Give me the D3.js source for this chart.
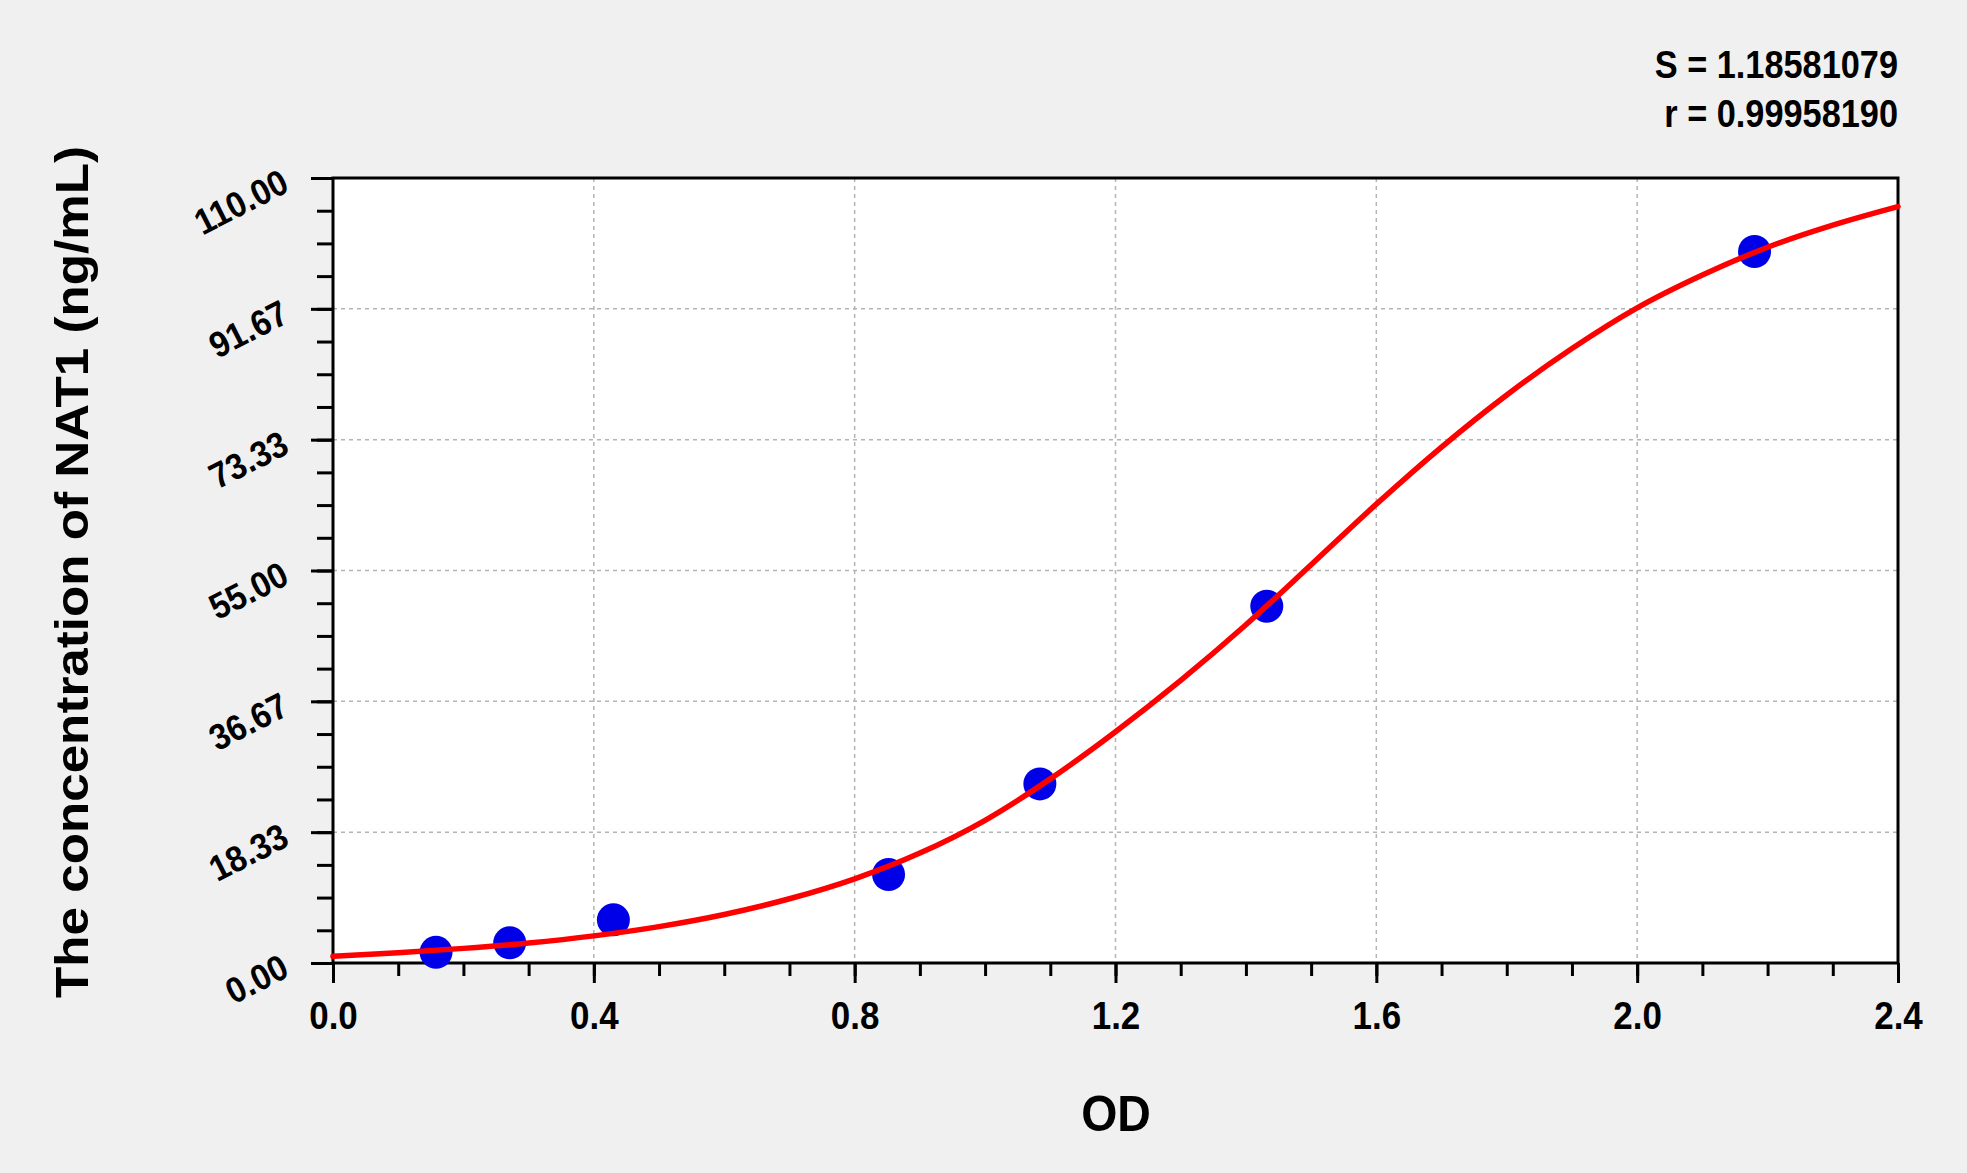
<!DOCTYPE html>
<html>
<head>
<meta charset="utf-8">
<script src="https://cdn.jsdelivr.net/npm/d3@7"></script>
<style>
  html, body { margin: 0; padding: 0; background: #f0f0f0; }
  svg { display: block; }
  text { font-family: "Liberation Sans", Arial, sans-serif; font-weight: bold; fill: #000; }
</style>
</head>
<body>
<svg id="chart" width="1967" height="1173"></svg>
<script>
// ---- data ----
const pointOD   = [0.158, 0.271, 0.430, 0.852, 1.084, 1.432, 2.180];
const pointConc = [1.5, 2.83, 6.05, 12.4, 25.1, 50.0, 99.7];

const curveOD   = [0.0, 0.1, 0.2, 0.3, 0.4, 0.5, 0.6, 0.7, 0.8, 0.9, 1.0, 1.1, 1.2,
                   1.3, 1.4, 1.5, 1.6, 1.7, 1.8, 1.9, 2.0, 2.1, 2.2, 2.3, 2.4];
const curveConc = [0.94, 1.45, 2.05, 2.8, 3.8, 5.1, 6.8, 9.0, 11.8, 15.4, 20.0, 25.8, 32.4,
                   39.6, 47.4, 55.8, 64.3, 72.3, 79.6, 86.1, 91.8, 96.4, 100.3, 103.4, 106.0];

const xTickValues = [0.0, 0.4, 0.8, 1.2, 1.6, 2.0, 2.4];
const xTickLabels = ["0.0", "0.4", "0.8", "1.2", "1.6", "2.0", "2.4"];
const yTickValues = [0, 110/6, 220/6, 55, 440/6, 550/6, 110];
const yTickLabels = ["0.00", "18.33", "36.67", "55.00", "73.33", "91.67", "110.00"];

const statLines = ["S = 1.18581079", "r = 0.99958190"];
const xTitle = "OD";
const yTitle = "The concentration of NAT1 (ng/mL)";

// ---- layout ----
const L = 333, R = 1898, T = 178, B = 963;
const svg = d3.select("#chart");
svg.append("rect").attr("width", 1967).attr("height", 1173).attr("fill", "#f0f0f0");

const x = d3.scaleLinear().domain([0, 2.4]).range([L, R]);
const y = d3.scaleLinear().domain([0, 110]).range([B, T]);

// plot background
svg.append("rect").attr("x", L).attr("y", T).attr("width", R - L).attr("height", B - T).attr("fill", "#fff");

// grid
const grid = svg.append("g").attr("stroke", "#b4b4b4").attr("stroke-width", 1.5).attr("stroke-dasharray", "4,4");
grid.selectAll("line.v").data(xTickValues.slice(1, -1)).join("line")
  .attr("x1", d => x(d)).attr("x2", d => x(d)).attr("y1", T).attr("y2", B);
grid.selectAll("line.h").data(yTickValues.slice(1, -1)).join("line")
  .attr("x1", L).attr("x2", R).attr("y1", d => y(d)).attr("y2", d => y(d));

// axes with d3 axis generators
const xMinor = d3.range(0, 25).map(i => i * 0.1);
const yMinor = d3.range(0, 25).map(i => i * 110 / 24);

const xAxisMinor = svg.append("g").attr("transform", `translate(0,${B})`)
  .call(d3.axisBottom(x).tickValues(xMinor).tickSize(13).tickFormat(""));
const xAxisMajor = svg.append("g").attr("transform", `translate(0,${B})`)
  .call(d3.axisBottom(x).tickValues(xTickValues).tickSize(20).tickFormat((d, i) => xTickLabels[i]));
const yAxisMinor = svg.append("g").attr("transform", `translate(${L},0)`)
  .call(d3.axisLeft(y).tickValues(yMinor).tickSize(16).tickFormat(""));
const yAxisMajor = svg.append("g").attr("transform", `translate(${L},0)`)
  .call(d3.axisLeft(y).tickValues(yTickValues).tickSize(22).tickFormat((d, i) => yTickLabels[i]));

[xAxisMinor, xAxisMajor, yAxisMinor, yAxisMajor].forEach(g => {
  g.select(".domain").remove();
  g.selectAll(".tick line").attr("stroke", "#000").attr("stroke-width", 3);
});

xAxisMajor.selectAll(".tick text")
  .attr("y", 0).attr("dy", null)
  .attr("font-size", 38).attr("font-family", "Liberation Sans, Arial, sans-serif").attr("font-weight", "bold")
  .attr("fill", "#000").attr("text-anchor", "middle")
  .attr("transform", `translate(0,${1029 - B}) scale(0.92,1)`);

yAxisMajor.selectAll(".tick text")
  .attr("x", 0).attr("dy", null).attr("y", 0)
  .attr("font-size", 36).attr("font-family", "Liberation Sans, Arial, sans-serif").attr("font-weight", "bold")
  .attr("fill", "#000").attr("text-anchor", "end")
  .attr("transform", `translate(${291 - L},12) rotate(-27) scale(0.92,1)`);

// frame
svg.append("rect").attr("x", L).attr("y", T).attr("width", R - L).attr("height", B - T)
  .attr("fill", "none").attr("stroke", "#000").attr("stroke-width", 3);

// points
const pts = pointOD.map((d, i) => ({ od: d, c: pointConc[i] }));
svg.append("g").selectAll("circle").data(pts).join("circle")
  .attr("cx", d => x(d.od)).attr("cy", d => y(d.c)).attr("r", 16.5)
  .attr("fill", "#0000e8");

// fitted curve
const curvePts = curveOD.map((d, i) => [d, curveConc[i]]);
svg.append("path").datum(curvePts)
  .attr("d", d3.line().x(d => x(d[0])).y(d => y(d[1])).curve(d3.curveMonotoneX))
  .attr("fill", "none").attr("stroke", "#ff0000").attr("stroke-width", 5.5)
  .attr("stroke-linecap", "round").attr("stroke-linejoin", "round");

// stats text
svg.append("g").selectAll("text").data(statLines).join("text")
  .attr("text-anchor", "end").attr("font-size", 39)
  .attr("transform", (d, i) => `translate(${R},${78 + i * 49}) scale(0.88,1)`)
  .text(d => d);

// axis titles
svg.append("text").attr("text-anchor", "middle").attr("font-size", 50)
  .attr("transform", `translate(${(L + R) / 2 + 0.5},1131) scale(0.93,1)`).text(xTitle);

svg.append("text").attr("text-anchor", "middle").attr("font-size", 46)
  .attr("textLength", 852).attr("lengthAdjust", "spacingAndGlyphs")
  .attr("transform", `translate(88,572) rotate(-90)`).text(yTitle);
</script>
</body>
</html>
